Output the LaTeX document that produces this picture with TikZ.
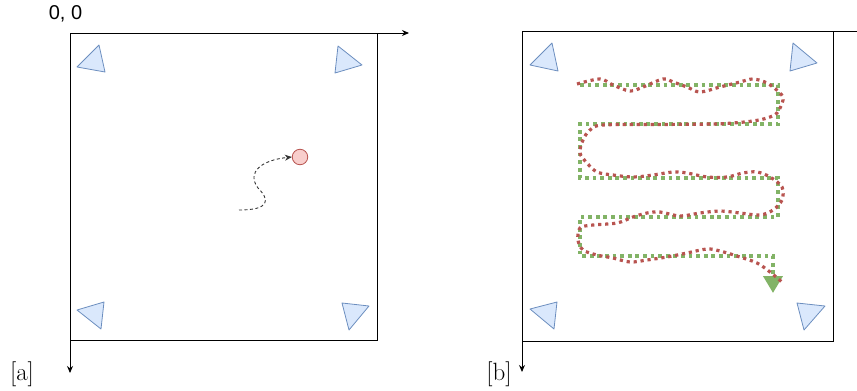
\documentclass[tikz,border=0pt]{standalone}
\usepackage{fontspec}
\newfontfamily\labelfont{Liberation Sans}
\usetikzlibrary{arrows.meta,positioning}
\definecolor{beaconfill}{HTML}{DAE8FC}
\definecolor{beacondraw}{HTML}{6C8EBF}
\definecolor{robotfill}{HTML}{F8CECC}
\definecolor{robotdraw}{HTML}{B85450}
\definecolor{plangreen}{HTML}{82B366}

\begin{document}
\begin{tikzpicture}[x=1pt, y=-1pt,
  room/.style={draw, line width=1pt},
  axis/.style={draw, line width=1pt, -{Stealth[length=7pt, width=6pt]}},
  beacon/.style={draw=beacondraw, fill=beaconfill, line width=0.8pt, line join=round},
  robot/.style={circle, draw=robotdraw, fill=robotfill, line width=0.8pt,
    minimum size=15.5pt, inner sep=0pt},
  walk/.style={draw=black!80, line width=0.9pt, dash pattern=on 3pt off 2.5pt,
    -{Stealth[length=7pt, width=6pt]}},
  planned/.style={draw=plangreen, line width=3.8pt, dash pattern=on 3.8pt off 3.8pt,
    -{Triangle[length=17pt, width=19pt]}},
  driven/.style={draw=robotdraw, line width=3.2pt, dash pattern=on 3.2pt off 3.8pt},
  tag/.style={font=\fontsize{25}{30}\selectfont, anchor=base, inner sep=0pt}
]
\useasboundingbox (0,0) rectangle (857,391);

% panel a
\coordinate (oa) at (70,33);
\draw[room] (oa) rectangle (377,340);
\draw[axis] (oa) -- (409,33);
\draw[axis] (oa) -- (70,373);
\node[font=\labelfont\fontsize{20}{24}\selectfont, inner sep=0pt] (origin) at (65.5,14) {0, 0};
\node[tag] (taga) at (22,380) {[a]};

\draw[beacon] (99,45) -- (77,67) -- (105,72) -- cycle;
\draw[beacon] (338,46) -- (362,65) -- (335,73) -- cycle;
\draw[beacon] (104,302) -- (77,310) -- (101,329) -- cycle;
\draw[beacon] (342,303) -- (369,306) -- (349,330) -- cycle;

\node[robot] (ball) at (300,157) {};
\coordinate (start) at (239,210);
\draw[walk] (start) .. controls (270,210) and (270,200) .. (258,188)
  .. controls (246,172) and (262,160) .. (ball.west);

% panel b
\coordinate (ob) at (522,31);
\draw[room] (ob) rectangle (833,341);
\draw[room] (ob) -- (857,31);
\draw[axis] (ob) -- (522,372);
\node[tag] (tagb) at (499,380) {[b]};

\draw[beacon] (552,43) -- (530,65) -- (558,71) -- cycle;
\draw[beacon] (793,43) -- (817,63) -- (790,71) -- cycle;
\draw[beacon] (557,302) -- (530,309) -- (554,329) -- cycle;
\draw[beacon] (797,303) -- (825,306) -- (804,330) -- cycle;

\coordinate (planstart) at (580,85);
\coordinate (planend) at (773,293);
\draw[planned] (planstart) -- (778,85) -- (778,124) -- (580,124) -- (580,178)
  -- (778,178) -- (778,217) -- (580,217) -- (580,256) -- (773,256) -- (planend);

\draw[driven] plot[smooth, tension=0.55] coordinates {
  (577,84) (600,79) (613,85) (630,91) (643,87) (663,79) (673,82) (687,87)
  (700,92) (720,87) (740,82) (753,79) (767,83) (780,93) (783,100) (777,113)
  (767,118) (753,121) (733,123) (713,124) (660,124.5) (603,125) (590,130)
  (583,140) (580,153) (587,163) (597,172) (613,175) (633,177) (653,175)
  (673,172) (687,173) (707,177) (727,177) (743,173) (757,172) (770,177)
  (782,187) (782,200) (773,210) (760,215) (740,213) (720,211) (700,213)
  (680,216) (660,212) (647,213) (633,217) (617,223) (593,225) (580,228)
  (578,240) (583,250) (597,255) (613,258) (630,262) (647,260) (667,257)
  (687,253) (707,249) (720,251) (740,257) (757,263) (770,272) (783,283)};
\end{tikzpicture}
\end{document}
